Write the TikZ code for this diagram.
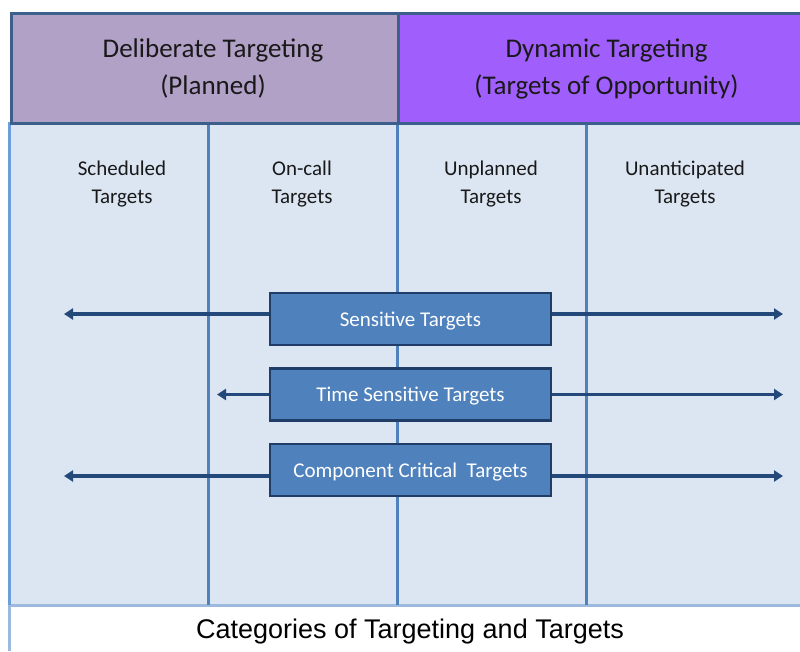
\documentclass[tikz,border=0pt]{standalone}
\usepackage{fontspec}
\setmainfont{Carlito}
\newfontfamily\capfont{Liberation Sans}
\usetikzlibrary{arrows.meta,calc}
\definecolor{hdrline}{HTML}{3C5F8C}
\definecolor{planned}{HTML}{B2A1C7}
\definecolor{dynamic}{HTML}{A05EFC}
\definecolor{bodyfill}{HTML}{DCE6F2}
\definecolor{colline}{HTML}{4F81BD}
\definecolor{edgeblue}{HTML}{6C9EDB}
\definecolor{footline}{HTML}{9DB9DD}
\definecolor{boxfill}{HTML}{4F81BD}
\definecolor{boxline}{HTML}{1F3D66}
\definecolor{arrowcol}{HTML}{23487A}
\begin{document}
\begin{tikzpicture}[x=1pt,y=-1pt,
  hdr/.style={draw=hdrline, line width=3pt, rectangle, anchor=north west,
    minimum height=110pt, inner sep=0pt, align=center, text=black!90,
    font=\fontsize{27}{37}\selectfont},
  lbl/.style={align=center, text=black!90, font=\fontsize{21}{28}\selectfont},
  colrule/.style={draw=colline, line width=3pt},
  tbox/.style={draw=boxline, line width=2.5pt, fill=boxfill, rectangle,
    minimum width=281pt, minimum height=52pt, inner sep=0pt, text=white,
    text height=14pt, text depth=0pt,
    font=\fontsize{21}{24}\selectfont},
  arr/.style={draw=arrowcol, line width=3.5pt, -{Triangle[length=9pt,width=11pt]}}
]
\useasboundingbox (0,0) rectangle (800,651);
\fill[white] (0,0) rectangle (800,651);

% body of the table
\fill[bodyfill] (10,122) rectangle (805,605);
\draw[footline, line width=3pt] (9,605) -- (805,605);
\draw[footline, line width=3pt] (9,605) -- (9,651);
\draw[edgeblue, line width=3pt] (9,122) -- (9,605);

% column rules
\draw[colrule] (208,122) -- (208,605);
\draw[colrule] (397,122) -- (397,605);
\draw[colrule] (586,122) -- (586,605);

% header cells
\node[hdr, fill=planned, minimum width=387pt] (plan) at (10,12)
  {\hspace*{16pt}Deliberate Targeting\\\hspace*{16pt}(Planned)};
\node[hdr, fill=dynamic, minimum width=416pt] (dyn) at (397,12)
  {Dynamic Targeting\\(Targets of Opportunity)};

% column labels
\node[lbl] (sched) at (122,184) {Scheduled\\Targets};
\node[lbl] (oncall) at (302,184) {On-call\\Targets};
\node[lbl] (unpl) at (491,184) {Unplanned\\Targets};
\node[lbl] (unant) at (685,184) {Unanticipated\\Targets};

% target boxes
\node[tbox] (sens) at (410.5,319) {Sensitive Targets};
\node[tbox] (tst) at (410.5,394.5) {Time Sensitive Targets};
\node[tbox] (cct) at (410.5,470) {Component Critical\ \ Targets};

% arrow ends
\coordinate (sensL) at (64,314);
\coordinate (sensR) at (783,314);
\coordinate (tstL) at (217,394.5);
\coordinate (tstR) at (783,394.5);
\coordinate (cctL) at (64,476);
\coordinate (cctR) at (783,476);

\draw[arr] ([yshift=5pt]sens.west) -- (sensL);
\draw[arr] ([yshift=5pt]sens.east) -- (sensR);
\draw[arr] (tst.west) -- (tstL);
\draw[arr] (tst.east) -- (tstR);
\draw[arr] ([yshift=-6pt]cct.west) -- (cctL);
\draw[arr] ([yshift=-6pt]cct.east) -- (cctR);

% caption
\node[font=\capfont\fontsize{27}{30}\selectfont] (cap) at (410,632)
  {Categories of Targeting and Targets};
\end{tikzpicture}
\end{document}
